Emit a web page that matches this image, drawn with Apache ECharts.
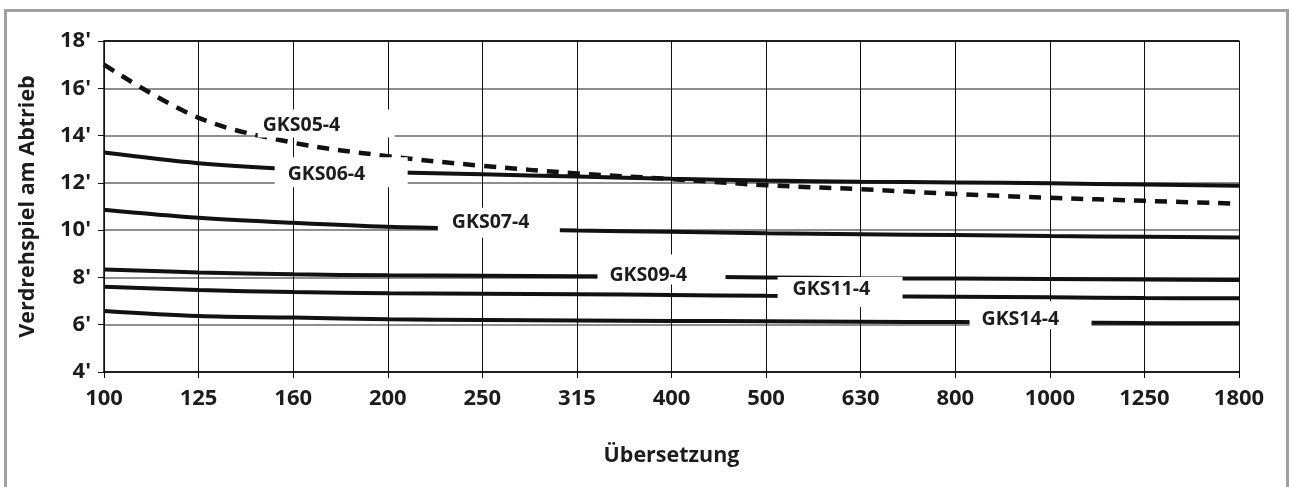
<!DOCTYPE html>
<html>
<head>
<meta charset="utf-8">
<script src="https://cdn.jsdelivr.net/npm/echarts@6/dist/echarts.min.js"></script>
<style>
html,body{margin:0;padding:0;background:#fff;}
#chart{width:1289px;height:487px;}
</style>
</head>
<body>
<div id="chart"></div>
<script>
// ---- data ----
const categories = ['100','125','160','200','250','315','400','500','630','800','1000','1250','1800'];
const yTicks = [4, 6, 8, 10, 12, 14, 16, 18];
const gks05 = [17.0, 14.75, 13.7, 13.13, 12.72, 12.4, 12.16, 11.9, 11.73, 11.53, 11.37, 11.24, 11.12];
const gks06 = [13.28, 12.83, 12.58, 12.45, 12.36, 12.27, 12.17, 12.1, 12.05, 12.02, 11.98, 11.93, 11.88];
const gks07 = [10.86, 10.52, 10.31, 10.14, 10.05, 9.98, 9.93, 9.87, 9.83, 9.79, 9.75, 9.72, 9.69];
const gks09 = [8.34, 8.21, 8.13, 8.09, 8.07, 8.05, 8.03, 8.0, 7.97, 7.95, 7.93, 7.91, 7.89];
const gks11 = [7.61, 7.47, 7.38, 7.33, 7.31, 7.29, 7.26, 7.22, 7.2, 7.18, 7.16, 7.13, 7.12];
const gks14 = [6.58, 6.37, 6.3, 6.23, 6.2, 6.18, 6.16, 6.15, 6.13, 6.11, 6.09, 6.07, 6.06];
const seriesNames = ['GKS05-4','GKS06-4','GKS07-4','GKS09-4','GKS11-4','GKS14-4'];

const FONT = '"Open Sans", "Noto Sans", sans-serif';
const TXT = '#1f1b1c';

// label box: anchor category index & value, then pixel offset/padding (styling)
function boxLabel(name, catIdx, val, offset, boxW, pl, pt, pb) {
  return {
    z: 10,
    symbol: 'rect',
    symbolSize: 1,
    itemStyle: { color: 'rgba(0,0,0,0)' },
    silent: true,
    data: [{
      coord: [catIdx, val],
      label: {
        show: true,
        formatter: name,
        position: [0, 0],
        offset: offset,
        align: 'left',
        verticalAlign: 'top',
        width: boxW - pl,
        padding: [pt, 0, pb, pl],
        lineHeight: 18,
        backgroundColor: '#ffffff',
        color: TXT,
        fontFamily: FONT,
        fontWeight: 'bold',
        fontSize: 19.5
      }
    }]
  };
}

function lineSeries(name, data, dashed, mp) {
  return {
    name: name,
    type: 'line',
    data: data,
    smooth: 0.35,
    showSymbol: false,
    symbol: 'none',
    silent: true,
    lineStyle: {
      color: '#111',
      width: dashed ? 4.5 : 4,
      type: dashed ? [12, 9] : 'solid'
    },
    markPoint: mp
  };
}

const chart = echarts.init(document.getElementById('chart'), null, { renderer: 'canvas' });
const gridColors = ['#111', '#6a6a6a', '#6a6a6a', '#6a6a6a', '#6a6a6a', '#6a6a6a', '#6a6a6a', '#111'];

chart.setOption({
  animation: false,
  backgroundColor: '#fff',
  graphic: [{
    type: 'polyline',
    shape: { points: [[5.5, 487], [5.5, 10.5], [1287.5, 10.5], [1287.5, 487]] },
    style: { stroke: '#a0a0a0', lineWidth: 3, fill: null },
    silent: true
  }],
  grid: { left: 104, right: 50, top: 41, bottom: 115, outerBoundsMode: 'none', containLabel: false },
  xAxis: [{
    type: 'category',
    data: categories,
    boundaryGap: false,
    name: 'Übersetzung',
    nameLocation: 'middle',
    nameGap: 73,
    nameTextStyle: { color: TXT, fontFamily: FONT, fontWeight: 'bold', fontSize: 21.5 },
    axisLine: { lineStyle: { color: '#111', width: 1.5 } },
    axisTick: { show: true, length: 6, interval: 0, lineStyle: { color: '#111' } },
    axisLabel: { interval: 0, margin: 16, color: TXT, fontFamily: FONT, fontWeight: 'bold', fontSize: 22 },
    splitLine: { show: true, interval: 0, lineStyle: { color: '#111', width: 1 } }
  }, {
    type: 'category',
    data: categories,
    boundaryGap: false,
    position: 'top',
    axisLine: { show: true, lineStyle: { color: '#111', width: 1.5 } },
    axisTick: { show: false },
    axisLabel: { show: false },
    splitLine: { show: false }
  }],
  yAxis: {
    type: 'value',
    min: yTicks[0],
    max: yTicks[yTicks.length - 1],
    interval: 2,
    name: 'Verdrehspiel am Abtrieb',
    nameLocation: 'middle',
    nameGap: 65,
    nameTextStyle: { color: TXT, fontFamily: FONT, fontWeight: 'bold', fontSize: 21.5 },
    axisLine: { show: true, lineStyle: { color: '#111', width: 1.5 } },
    axisTick: { show: true, length: 6, lineStyle: { color: '#111' } },
    axisLabel: { margin: 13, color: TXT, fontFamily: FONT, fontWeight: 'bold', fontSize: 22, formatter: v => v + "'" },
    splitLine: { show: true, lineStyle: { color: gridColors, width: 1.5 } }
  },
  series: [
    lineSeries(seriesNames[0], gks05, true, boxLabel(seriesNames[0], 2, 14, [-35, -25.6], 137, 5, 7, 3)),
    lineSeries(seriesNames[1], gks06, false, boxLabel(seriesNames[1], 2, 12, [-18, -25], 133, 13, 8, 4)),
    lineSeries(seriesNames[2], gks07, false, boxLabel(seriesNames[2], 4, 10, [-44, -22], 122, 14, 5.5, 6.5)),
    lineSeries(seriesNames[3], gks09, false, boxLabel(seriesNames[3], 6, 8, [-73.5, -22.4], 128, 12, 12, 0)),
    lineSeries(seriesNames[4], gks11, false, boxLabel(seriesNames[4], 8, 8, [-82.6, 0], 125, 15, 4, 8)),
    lineSeries(seriesNames[5], gks14, false, boxLabel(seriesNames[5], 10, 6, [-79.8, -23], 122, 12, 9, 1))
  ]
});
</script>
</body>
</html>
